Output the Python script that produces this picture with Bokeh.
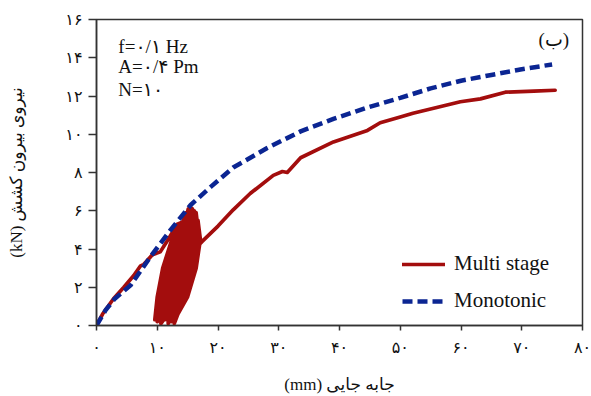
from bokeh.plotting import figure
from bokeh.models import Range1d, Legend, LegendItem, Label, FixedTicker
from bokeh.embed import file_html
from bokeh.resources import INLINE

# Monotonic curve (mm, kN)
mono_x = [0, 1.5, 3.0, 5.6, 8.9, 12.2, 15.5, 18.8, 22.5, 28.1, 33.6, 39.0, 44.6, 50.0, 55.0, 60.0, 65.0, 70.0, 75.0]
mono_y = [0, 0.8, 1.4, 2.1, 3.6, 5.0, 6.3, 7.25, 8.26, 9.28, 10.15, 10.8, 11.4, 11.9, 12.4, 12.8, 13.1, 13.4, 13.65]

# Multi stage curve: before cycling
ms_pre_x = [0, 1.0, 2.8, 4.5, 6.1, 7.2, 7.8, 9.2, 10.5, 12.0, 13.3, 14.1]
ms_pre_y = [0, 0.6, 1.4, 2.0, 2.6, 3.1, 3.2, 3.7, 3.85, 4.6, 5.3, 5.4]
# cycling loops (loop by loop)
loop_x = [12.4, 10.9, 10.0, 9.6, 10.4, 12.6, 14.6, 15.4, 14.8,
          13.0, 11.2, 10.4, 10.0, 10.9, 13.0, 14.9, 15.7, 15.1,
          14.0, 12.9, 11.8, 11.0, 11.6, 12.8, 14.0, 15.0, 15.3,
          13.3, 11.5, 10.9, 10.6, 11.5, 13.4, 15.2, 16.0, 15.5,
          14.3, 13.3, 12.3, 11.6, 12.2, 13.3, 14.4, 15.3, 15.6,
          13.6, 11.8, 11.4, 11.2, 12.0, 13.8, 15.5, 16.3, 15.8,
          14.6, 13.7, 12.8, 12.2, 12.8, 13.8, 14.8, 15.7, 16.0,
          13.9, 12.1, 11.8, 11.8, 12.5, 14.2, 15.8, 16.6, 16.1,
          14.2, 12.4, 12.2, 12.3, 13.0, 14.6, 16.1, 16.9, 16.4,
          14.5, 12.7, 12.6, 12.8, 13.4, 15.0, 16.4, 17.1, 16.7]
loop_y = [4.5, 3.0, 1.5, 0.3, 0.5, 1.5, 3.0, 4.5, 5.9,
          4.5, 3.0, 1.5, 0.2, 0.5, 1.5, 3.0, 4.5, 6.1,
          4.5, 3.0, 1.5, 0.4, 0.6, 1.5, 3.0, 4.5, 5.8,
          4.5, 3.0, 1.5, 0.1, 0.5, 1.5, 3.0, 4.5, 6.2,
          4.5, 3.0, 1.5, 0.3, 0.5, 1.5, 3.0, 4.5, 5.9,
          4.5, 3.0, 1.5, 0.3, 0.6, 1.5, 3.0, 4.5, 6.1,
          4.5, 3.0, 1.5, 0.4, 0.6, 1.5, 3.0, 4.5, 6.0,
          4.5, 3.0, 1.5, 0.1, 0.5, 1.5, 3.0, 4.5, 6.0,
          4.5, 3.0, 1.5, 0.2, 0.6, 1.5, 3.0, 4.5, 5.9,
          4.5, 3.0, 1.5, 0.1, 0.6, 1.5, 3.0, 4.5, 5.5]
# after cycling
ms_post_x = [15.6, 16.2, 17.4, 20.0, 22.5, 25.3, 29.1, 30.6, 31.4, 33.6, 39.0, 44.6, 46.7, 50.0, 52.1,
             56.0, 59.9, 63.2, 67.3, 72.0, 75.5]
ms_post_y = [3.7, 4.0, 4.4, 5.2, 6.05, 6.9, 7.85, 8.05, 8.0, 8.77, 9.6, 10.2, 10.6, 10.9, 11.1,
             11.4, 11.7, 11.85, 12.2, 12.25, 12.3]

x_ticks = [0, 10, 20, 30, 40, 50, 60, 70, 80]
x_tick_labels = ["۰", "۱۰", "۲۰", "۳۰", "۴۰", "۵۰", "۶۰", "۷۰", "۸۰"]
y_ticks = [0, 2, 4, 6, 8, 10, 12, 14, 16]
y_tick_labels = ["۰", "۲", "۴", "۶", "۸", "۱۰", "۱۲", "۱۴", "۱۶"]

RED = "#a30d0d"
BLUE = "#0b2592"
SERIF = "Liberation Serif, DejaVu Sans"
AXC = "#333333"
TXT = "#111111"

p = figure(width=591, height=396, output_backend="svg", toolbar_location=None,
           x_range=Range1d(0, 80), y_range=Range1d(0, 16),
           min_border_left=96, min_border_right=9, min_border_top=19, min_border_bottom=65)
p.grid.visible = False
p.outline_line_color = AXC
p.outline_line_width = 1.5
p.background_fill_color = "white"
p.border_fill_color = "white"

ms_x = ms_pre_x + loop_x + ms_post_x
ms_y = ms_pre_y + loop_y + ms_post_y
r_ms = p.line(ms_x, ms_y, line_color=RED, line_width=3.7, line_join="round", line_cap="round")
r_mono = p.line(mono_x, mono_y, line_color=BLUE, line_width=4.5, line_dash="10 5")

for ax, ticks, labels in ((p.xaxis[0], x_ticks, x_tick_labels), (p.yaxis[0], y_ticks, y_tick_labels)):
    ax.ticker = FixedTicker(ticks=ticks)
    ax.major_label_overrides = {t: l for t, l in zip(ticks, labels)}
    ax.minor_tick_line_color = None
    ax.major_tick_in = 0
    ax.axis_line_color = AXC
    ax.axis_line_width = 1.5
    ax.major_tick_line_color = AXC
    ax.major_tick_line_width = 1.5
    ax.major_label_text_font = SERIF
    ax.major_label_text_font_size = "16px"
    ax.major_label_text_color = TXT
    ax.axis_label_text_font = SERIF
    ax.axis_label_text_font_style = "normal"
    ax.axis_label_text_font_size = "17px"
    ax.axis_label_text_color = TXT

p.xaxis[0].major_tick_out = 5
p.xaxis[0].major_label_standoff = 8
p.xaxis[0].axis_label = "\u2066(mm) جابه جایی\u2069"
p.xaxis[0].axis_label_standoff = 16
p.yaxis[0].major_tick_out = 8
p.yaxis[0].major_label_standoff = 6
p.yaxis[0].axis_label = "\u2066(kN) نیروی بیرون کشش\u2069"
p.yaxis[0].axis_label_standoff = 36

for txt, yy in (("f=۰/۱ Hz", 14.6), ("A=۰/۴ Pm", 13.52), ("N=۱۰", 12.34)):
    p.add_layout(Label(x=3.6, y=yy, text=txt, text_font=SERIF, text_font_size="19px",
                       text_color=TXT, text_baseline="middle"))
p.add_layout(Label(x=77.8, y=14.95, text="(ب)", text_font=SERIF, text_font_size="19px",
                   text_color=TXT, text_baseline="middle", text_align="right"))

legend = Legend(items=[LegendItem(label="Multi stage", renderers=[r_ms]),
                       LegendItem(label="Monotonic", renderers=[r_mono])],
                location=(306, 12), glyph_width=43, glyph_height=20, label_height=20,
                spacing=12, padding=0, label_standoff=9, border_line_color=None,
                background_fill_alpha=0, label_text_font=SERIF, label_text_font_size="21px",
                label_text_color=TXT)
p.add_layout(legend, "center")

open("out.html", "w").write(file_html(p, INLINE))
